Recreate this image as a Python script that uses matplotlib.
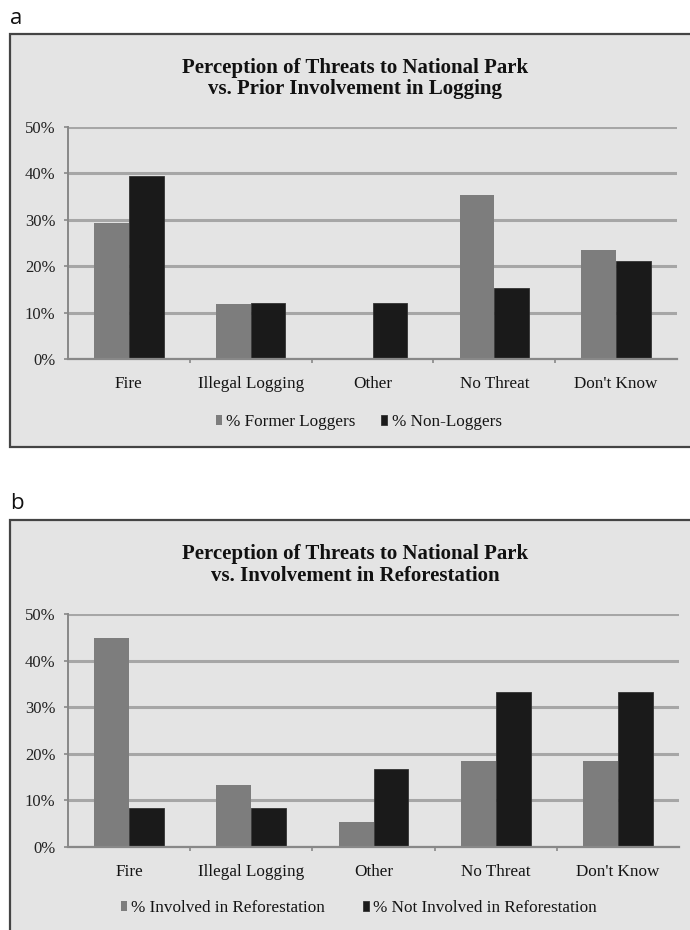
import matplotlib
matplotlib.use("Agg")
import matplotlib.pyplot as plt
from matplotlib.patches import Rectangle
from matplotlib.legend_handler import HandlerPatch
from matplotlib.ticker import PercentFormatter, FixedLocator
import numpy as np

categories = ["Fire", "Illegal Logging", "Other", "No Threat", "Don't Know"]

title_a = "Perception of Threats to National Park\nvs. Prior Involvement in Logging"
series_a_names = ["% Former Loggers", "% Non-Loggers"]
former_loggers = [29.4, 11.8, 0.0, 35.3, 23.5]
non_loggers = [39.4, 12.1, 12.1, 15.2, 21.2]

title_b = "Perception of Threats to National Park\nvs. Involvement in Reforestation"
series_b_names = ["% Involved in Reforestation", "% Not Involved in Reforestation"]
involved = [44.8, 13.2, 5.3, 18.4, 18.4]
not_involved = [8.3, 8.3, 16.7, 33.3, 33.3]

yticks = [0, 10, 20, 30, 40, 50]

W, H = 690, 930
fig = plt.figure(figsize=(W / 100, H / 100), dpi=100)
fig.patch.set_facecolor("white")

SERIF = ["Liberation Serif", "DejaVu Serif"]
GRAY = "#7d7d7d"
BLACK = "#1a1a1a"
BG = "#e4e4e4"
GRID = "#a6a6a6"
TXT = "#141414"


def fx(px):
    return px / W


def fy(py):
    return 1 - py / H


def frame(top, bottom):
    r = Rectangle((fx(10), fy(bottom)), fx(700) - fx(10), fy(top) - fy(bottom),
                  transform=fig.transFigure, facecolor=BG, edgecolor="#444444",
                  linewidth=1.6, zorder=-10)
    fig.patches.append(r)


def small_marker(legend, orig_handle, xdescent, ydescent, width, height, fontsize):
    return Rectangle((-xdescent, -ydescent + height * 0.25), width, height * 0.85)


def panel(ax_rect, s1, s2, names, title, title_y, legend_y, colspace):
    ax = fig.add_axes(ax_rect)
    ax.set_facecolor("none")
    x = np.arange(len(categories))
    w = 0.285
    ax.bar(x - w / 2, s1, w, color=GRAY, label=names[0], zorder=3)
    ax.bar(x + w / 2, s2, w, color=BLACK, edgecolor="#333333", linewidth=0.6,
           label=names[1], zorder=3)
    ax.set_xlim(-0.5, len(categories) - 0.5)
    ax.set_ylim(0, 50)
    ax.set_yticks(yticks)
    ax.yaxis.set_major_formatter(PercentFormatter(decimals=0))
    ax.set_xticks(x)
    ax.set_xticklabels(categories, fontfamily=SERIF, fontsize=12.3, color=TXT)
    ax.xaxis.set_minor_locator(FixedLocator(np.arange(0.5, len(categories) - 0.5, 1)))
    ax.tick_params(axis="x", which="major", length=0, pad=12)
    ax.tick_params(axis="x", which="minor", length=3, width=1.2, color="#888888", direction="out")
    ax.tick_params(axis="y", length=3, width=1.2, color="#888888", pad=6)
    for lab in ax.get_yticklabels():
        lab.set_fontfamily(SERIF)
        lab.set_fontsize(12)
        lab.set_color("#222222")
    ax.yaxis.grid(True, color=GRID, linewidth=2.2, zorder=0)
    ax.set_axisbelow(True)
    for s in ["top", "right"]:
        ax.spines[s].set_visible(False)
    ax.spines["left"].set_color("#888888")
    ax.spines["left"].set_linewidth(1.4)
    ax.spines["bottom"].set_color("#888888")
    ax.spines["bottom"].set_linewidth(1.6)
    ax.spines["bottom"].set_zorder(4)

    fig.text(fx(355), fy(title_y), title, ha="center", va="center",
             fontfamily=SERIF, fontweight="bold", fontsize=15,
             linespacing=1.1, color="#111111")

    leg = ax.legend(loc="center", bbox_to_anchor=(fx(359), fy(legend_y)),
                    bbox_transform=fig.transFigure, ncol=2, frameon=False,
                    prop={"family": SERIF, "size": 12.3},
                    handlelength=0.35, handleheight=0.5, handletextpad=0.25,
                    columnspacing=colspace, borderpad=0,
                    handler_map={Rectangle: HandlerPatch(patch_func=small_marker)})
    for t in leg.get_texts():
        t.set_color(TXT)
    return ax


frame(34, 447)
frame(520, 945)

fig.text(fx(10), fy(18), "a", ha="left", va="center", fontfamily=["Open Sans", "DejaVu Sans"],
         fontsize=16, color="#111111")
fig.text(fx(10), fy(503), "b", ha="left", va="center", fontfamily=["Open Sans", "DejaVu Sans"],
         fontsize=16, color="#111111")

panel([fx(68), fy(359), fx(677) - fx(68), fy(127) - fy(359)],
      former_loggers, non_loggers, series_a_names, title_a, 78.5, 422, 1.5)
panel([fx(68), fy(847), fx(679) - fx(68), fy(614) - fy(847)],
      involved, not_involved, series_b_names, title_b, 565, 908, 2.2)

fig.savefig("out.png", dpi=100)
